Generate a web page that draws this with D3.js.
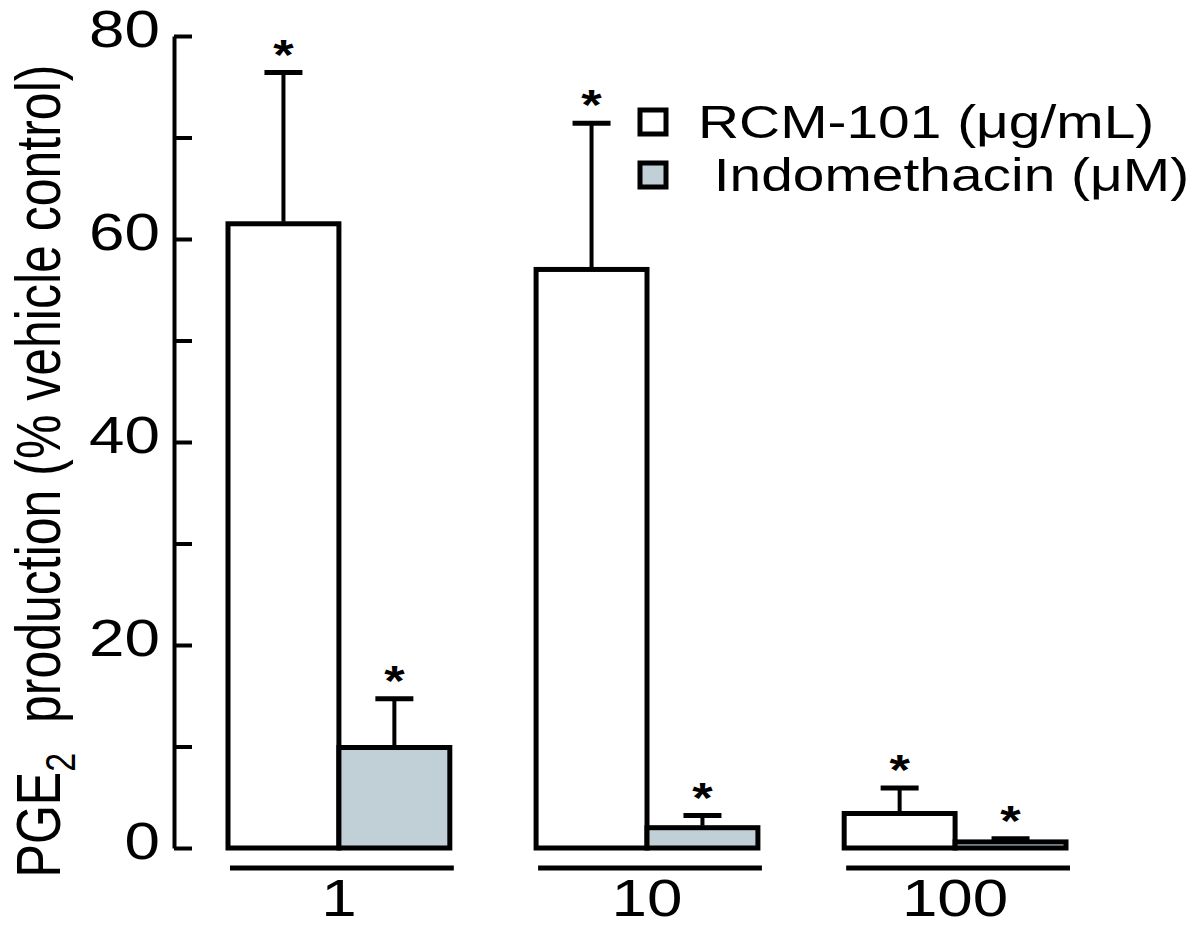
<!DOCTYPE html>
<html>
<head>
<meta charset="utf-8">
<script src="https://cdn.jsdelivr.net/npm/d3@7"></script>
<style>
  body { margin: 0; background: #fff; }
  text { font-family: "Liberation Sans", Arial, sans-serif; fill: #000; }
</style>
</head>
<body>
<script>
// data
const categories = ['1', '10', '100'];
const seriesNames = ['RCM-101 (μg/mL)', ' Indomethacin (μM)'];
const rcmMeans = [61.5, 57.0, 3.4];
const rcmErrors = [14.9, 14.4, 2.5];
const indoMeans = [9.9, 2.0, 0.6];
const indoErrors = [4.8, 1.2, 0.3];
const yTicks = [0, 10, 20, 30, 40, 50, 60, 70, 80];
const yTickLabels = ['0', '', '20', '', '40', '', '60', '', '80'];

const width = 1200, height = 936;
const stretch = 1.25; // the original figure is stretched sideways
const colors = ['#ffffff', '#c1d0d6'];

const svg = d3.select('body')
    .append('svg')
    .attr('width', width)
    .attr('height', height);

const x0 = d3.scaleBand()
    .domain(categories)
    .range([228, 1066])
    .paddingInner(0.28)
    .paddingOuter(0);

const x1 = d3.scaleBand()
    .domain([0, 1])
    .range([0, x0.bandwidth()]);

const y = d3.scaleLinear()
    .domain([0, 80])
    .range([848, 36]);

const rows = categories.map((c, i) => ({
    cat: c,
    values: [
        { s: 0, mean: rcmMeans[i], err: rcmErrors[i] },
        { s: 1, mean: indoMeans[i], err: indoErrors[i] }
    ]
}));

// y axis, ticks pointing inward
const yAxis = d3.axisLeft(y)
    .tickValues(yTicks)
    .tickFormat((d, i) => yTickLabels[i])
    .tickSizeInner(-18)
    .tickSizeOuter(0)
    .tickPadding(14);

const gy = svg.append('g')
    .attr('transform', 'translate(174,0)')
    .call(yAxis);
gy.select('.domain').attr('stroke', '#000').attr('stroke-width', 4);
gy.selectAll('.tick line').attr('stroke', '#000').attr('stroke-width', 4);
gy.selectAll('.tick text')
    .attr('font-size', 51)
    .attr('font-family', '"Liberation Sans", Arial, sans-serif')
    .attr('fill', '#000')
    .attr('x', -14 / stretch)
    .attr('dy', '10px')
    .attr('transform', `scale(${stretch},1)`);

// y title
const title = svg.append('text')
    .attr('transform', `translate(60,471) scale(${stretch},1) rotate(-90)`)
    .attr('text-anchor', 'middle')
    .attr('font-size', 50);
title.append('tspan').text('PGE');
title.append('tspan').attr('font-size', 34).attr('dy', 12).text('2');
title.append('tspan').attr('dy', -12).attr('dx', 16).text(' production (% vehicle control)');

// bars
const groups = svg.selectAll('g.group')
    .data(rows)
    .enter()
    .append('g')
    .attr('class', 'group')
    .attr('transform', d => `translate(${x0(d.cat)},0)`);

groups.selectAll('rect')
    .data(d => d.values)
    .enter()
    .append('rect')
    .attr('x', d => x1(d.s))
    .attr('y', d => y(d.mean))
    .attr('width', x1.bandwidth())
    .attr('height', d => y(0) - y(d.mean))
    .attr('fill', d => colors[d.s])
    .attr('stroke', '#000')
    .attr('stroke-width', 5);

// error bars (upper only)
groups.selectAll('line.err')
    .data(d => d.values)
    .enter()
    .append('line')
    .attr('class', 'err')
    .attr('x1', d => x1(d.s) + x1.bandwidth() / 2)
    .attr('x2', d => x1(d.s) + x1.bandwidth() / 2)
    .attr('y1', d => y(d.mean) - 2)
    .attr('y2', d => y(d.mean + d.err))
    .attr('stroke', '#000')
    .attr('stroke-width', 4);

groups.selectAll('line.cap')
    .data(d => d.values)
    .enter()
    .append('line')
    .attr('class', 'cap')
    .attr('x1', d => x1(d.s) + x1.bandwidth() / 2 - 19)
    .attr('x2', d => x1(d.s) + x1.bandwidth() / 2 + 19)
    .attr('y1', d => y(d.mean + d.err))
    .attr('y2', d => y(d.mean + d.err))
    .attr('stroke', '#000')
    .attr('stroke-width', 5);

groups.selectAll('text.star')
    .data(d => d.values)
    .enter()
    .append('text')
    .attr('class', 'star')
    .attr('text-anchor', 'middle')
    .attr('font-size', 42)
    .attr('font-weight', 'bold')
    .attr('transform', d => `translate(${x1(d.s) + x1.bandwidth() / 2},${y(d.mean + d.err) - 4}) scale(${stretch},1)`)
    .text('*');

// group baselines and labels
groups.append('line')
    .attr('x1', 2)
    .attr('x2', x0.bandwidth() + 4)
    .attr('y1', 868)
    .attr('y2', 868)
    .attr('stroke', '#000')
    .attr('stroke-width', 5);

groups.append('text')
    .attr('text-anchor', 'middle')
    .attr('font-size', 51)
    .attr('transform', `translate(${x0.bandwidth() / 2},916) scale(${stretch},1)`)
    .text(d => d.cat);

// legend
const legend = svg.selectAll('g.legend')
    .data(seriesNames)
    .enter()
    .append('g')
    .attr('class', 'legend')
    .attr('transform', (d, i) => `translate(640,${122 + i * 53})`);

legend.append('rect')
    .attr('x', 0)
    .attr('y', -12)
    .attr('width', 26)
    .attr('height', 24)
    .attr('fill', (d, i) => colors[i])
    .attr('stroke', '#000')
    .attr('stroke-width', 5);

legend.append('text')
    .attr('transform', `translate(58,16) scale(${stretch},1)`)
    .attr('font-size', 45.5)
    .style('white-space', 'pre')
    .text(d => d);
</script>
</body>
</html>
